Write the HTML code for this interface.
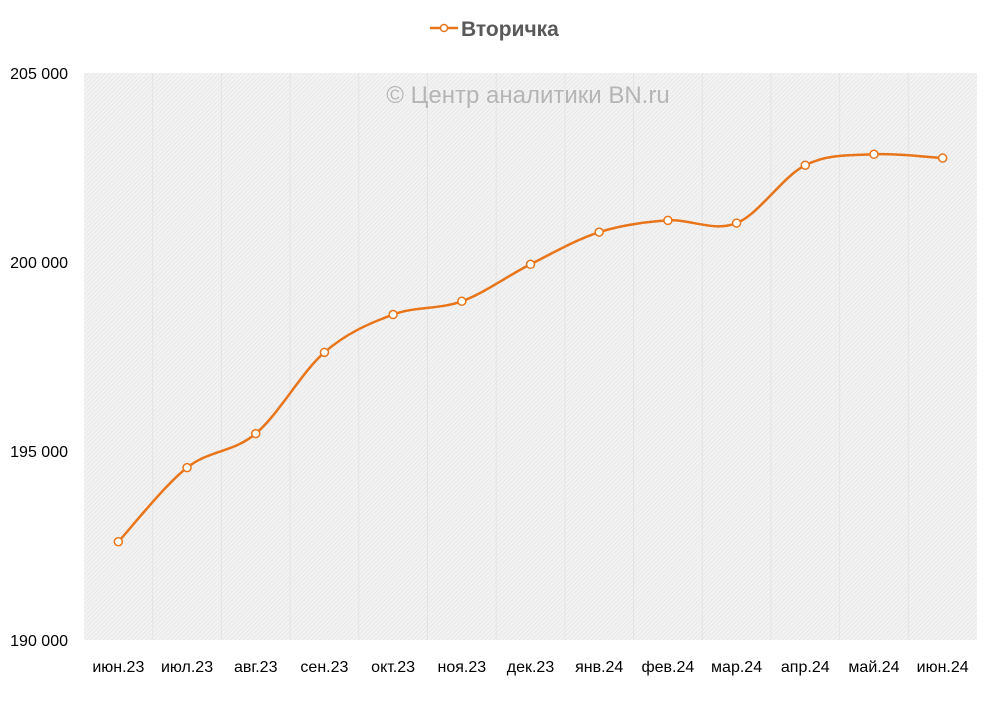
<!DOCTYPE html>
<html><head><meta charset="utf-8"><style>
body{margin:0;background:#fff;}
svg{display:block;font-family:"Liberation Sans","DejaVu Sans",sans-serif;}
</style></head><body>
<svg id="chart" width="994" height="723" viewBox="0 0 994 723">
<defs>
<pattern id="hatch" width="3" height="3" patternUnits="userSpaceOnUse" patternTransform="rotate(45)">
<rect width="3" height="3" fill="#f3f3f3"/><rect width="1" height="3" fill="#e8e8e8"/>
</pattern>
</defs>
<rect x="84" y="73" width="893" height="567" fill="url(#hatch)"/>
<g id="grid"></g>
<text x="528" y="103" text-anchor="middle" font-size="24" fill="#b5b5b5">© Центр аналитики BN.ru</text>
<g>
<line x1="430" y1="28" x2="458" y2="28" stroke="#e8751a" stroke-width="2.5"/>
<circle cx="444" cy="28" r="3.5" fill="#fff" stroke="#e8751a" stroke-width="1.5"/>
<text x="461" y="36" font-size="21" font-weight="bold" fill="#595959">Вторичка</text>
</g>
<g id="axes"></g>
<g id="series"></g>
</svg>
<script>
const categories=["июн.23","июл.23","авг.23","сен.23","окт.23","ноя.23","дек.23","янв.24","фев.24","мар.24","апр.24","май.24","июн.24"];
const values=[192600,194560,195460,197610,198610,198960,199940,200790,201100,201030,202560,202850,202750];
const yTicks=[190000,195000,200000,205000];
const yTickLabels=["190 000","195 000","200 000","205 000"];
const NS="http://www.w3.org/2000/svg";
const L=84,R=977,T=73,B=640,yMin=190000,yMax=205000;
const bw=(R-L)/categories.length;
const x=i=>L+bw*(i+0.5);
const y=v=>B-(v-yMin)/(yMax-yMin)*(B-T);
function mk(t,a,p){const e=document.createElementNS(NS,t);for(const k in a)e.setAttribute(k,a[k]);p.appendChild(e);return e;}
const grid=document.getElementById('grid'),axes=document.getElementById('axes'),ser=document.getElementById('series');
for(let i=1;i<categories.length;i++){const g=mk('line',{x1:L+bw*i,x2:L+bw*i,y1:T,y2:B,stroke:'#e4e4e4','stroke-width':1},grid);

}
yTicks.forEach((v,i)=>{const t=mk('text',{x:68,y:y(v)+6,'text-anchor':'end','font-size':16,fill:'#000'},axes);t.textContent=yTickLabels[i];

});
categories.forEach((c,i)=>{const t=mk('text',{x:x(i),y:672,'text-anchor':'middle','font-size':16,fill:'#000'},axes);t.textContent=c;

});
const pts=values.map((v,i)=>[x(i),y(v)]);
let d='M'+pts[0][0]+','+pts[0][1];
for(let i=0;i<pts.length-1;i++){const p0=pts[i-1]||pts[i],p1=pts[i],p2=pts[i+1],p3=pts[i+2]||p2,k=1/6;
d+=' C'+(p1[0]+(p2[0]-p0[0])*k)+','+(p1[1]+(p2[1]-p0[1])*k)+' '+(p2[0]-(p3[0]-p1[0])*k)+','+(p2[1]-(p3[1]-p1[1])*k)+' '+p2[0]+','+p2[1];}
const line=mk('path',{d:d,fill:'none',stroke:'#e8751a','stroke-width':2.5},ser);


pts.forEach(p=>{const c=mk('circle',{cx:p[0],cy:p[1],r:4,fill:'#fff',stroke:'#e8751a','stroke-width':1.5},ser);

});
</script>
</body></html>
